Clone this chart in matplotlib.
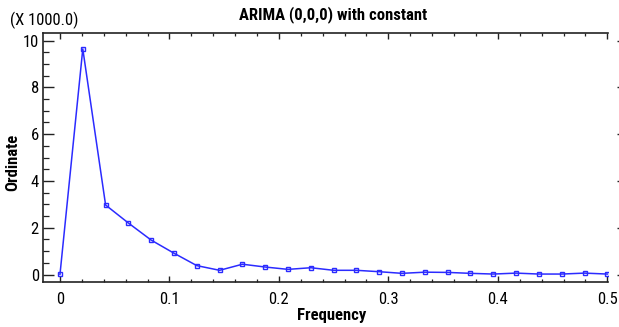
import numpy as np
import matplotlib
matplotlib.use("Agg")
import matplotlib.pyplot as plt
from matplotlib import font_manager
from matplotlib.ticker import MultipleLocator, FormatStrFormatter

# periodogram ordinates (thousands) at Fourier frequencies k/48
frequency = np.arange(25) / 48.0
ordinate = [0.01, 9.64, 2.97, 2.20, 1.47, 0.91, 0.38, 0.18, 0.44, 0.32,
            0.22, 0.29, 0.18, 0.18, 0.12, 0.05, 0.10, 0.09, 0.05, 0.02,
            0.06, 0.02, 0.02, 0.06, 0.02]

title = "ARIMA (0,0,0) with constant"
x_label = "Frequency"
y_label = "Ordinate"
scale_note = "(X 1000.0)"

# narrow sans, close to the Helvetica Condensed look
names = {f.name for f in font_manager.fontManager.ttflist}
fam = "DejaVu Sans"
for cand in ["Liberation Sans Narrow", "Roboto Condensed", "Archivo Narrow",
             "Open Sans Condensed", "Barlow Semi Condensed"]:
    if cand in names:
        fam = cand
        break
plt.rcParams["font.family"] = [fam, "DejaVu Sans"]

blue = "#2b2bff"
frame = "#222222"

fig = plt.figure(figsize=(6.19, 3.27), dpi=100)
ax = fig.add_axes([0.0695, 0.1376, 0.9125, 0.7614])

ax.plot(frequency, ordinate, color=blue, lw=1.1, marker="s", ms=3.2,
        mfc="none", mec=blue, mew=1.0)

ax.set_xlim(-0.0155, 0.5005)
ax.set_ylim(-0.32, 10.32)
ax.xaxis.set_major_locator(MultipleLocator(0.1))
ax.xaxis.set_minor_locator(MultipleLocator(0.02))
ax.xaxis.set_major_formatter(FormatStrFormatter("%g"))
ax.yaxis.set_major_locator(MultipleLocator(2))
ax.yaxis.set_minor_locator(MultipleLocator(0.5))

ax.spines["right"].set_visible(False)
for s in ["left", "top", "bottom"]:
    ax.spines[s].set_linewidth(1.2)
    ax.spines[s].set_color(frame)

ax.tick_params(axis="both", which="both", direction="in", labelsize=12,
               top=True, right=False, colors=frame, labelcolor="black")
ax.tick_params(axis="x", which="major", length=4.5, width=1.0, pad=7)
ax.tick_params(axis="x", which="minor", length=2.5, width=0.9)
ax.tick_params(axis="y", which="major", length=8, width=1.0, pad=3)
ax.tick_params(axis="y", which="minor", length=4, width=0.9)

# right-hand ticks sit a little off the plot frame, no spine
ax2 = ax.twinx()
ax2.set_ylim(ax.get_ylim())
ax2.yaxis.set_major_locator(MultipleLocator(2))
ax2.yaxis.set_minor_locator(MultipleLocator(0.5))
for s in ax2.spines.values():
    s.set_visible(False)
ax2.spines["right"].set_position(("outward", 11))
ax2.tick_params(axis="y", which="major", direction="in", length=4.3, width=1.0,
                labelright=False, colors=frame)
ax2.tick_params(axis="y", which="minor", direction="in", length=1.2, width=1.0,
                colors=frame)

fig.text(0.538, 0.957, title, fontsize=12, fontweight="bold", ha="center", va="center")
fig.text(0.536, 0.034, x_label, fontsize=12, fontweight="bold", ha="center", va="center")
fig.text(0.021, 0.503, y_label, fontsize=12, fontweight="bold", rotation=90,
         ha="center", va="center")
fig.text(0.016, 0.937, scale_note, fontsize=12, va="center", ha="left")

fig.savefig("out.png", dpi=100)
